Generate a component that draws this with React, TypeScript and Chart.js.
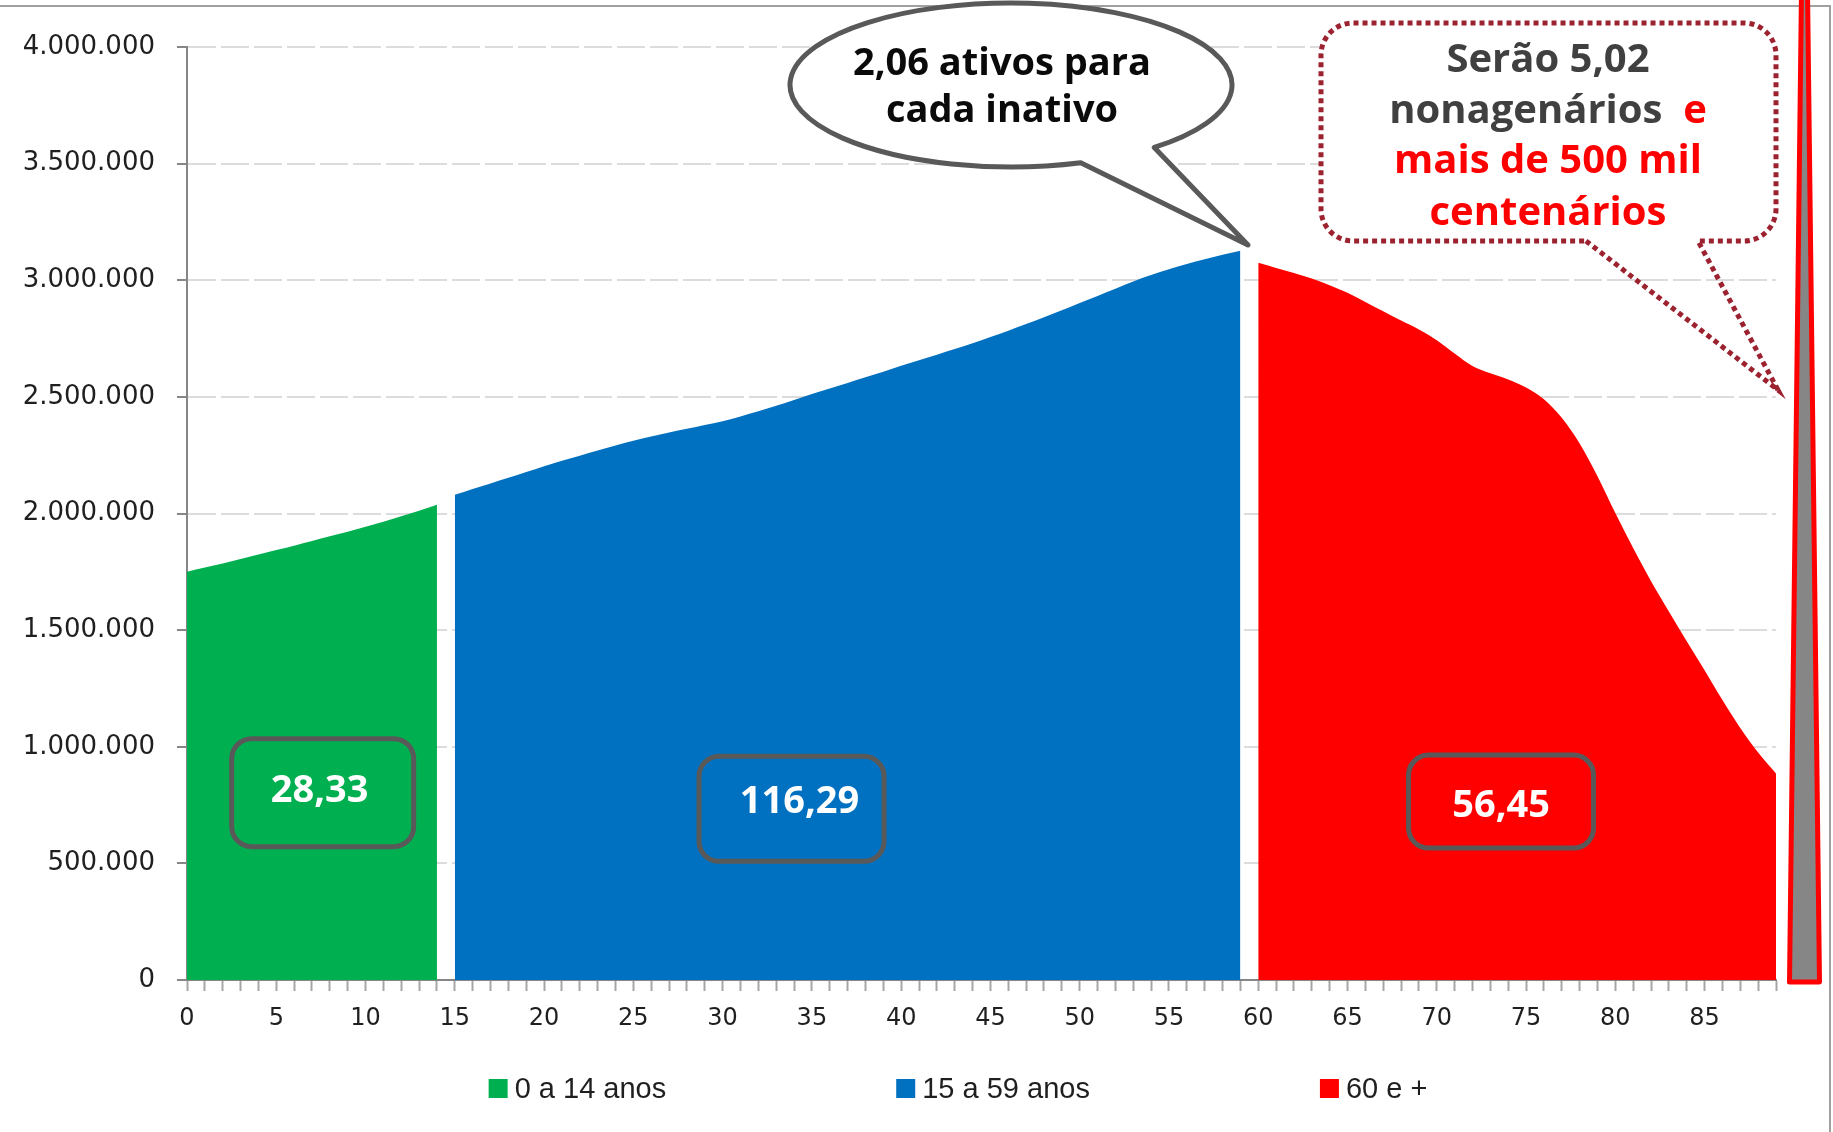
import React, { useEffect, useRef } from 'react';
import { Chart, registerables } from 'chart.js';

Chart.register(...registerables);

// ---- categories (age in years) ----
const ageLabels = [
  '0', '1', '2', '3', '4', '5', '6', '7', '8', '9',
  '10', '11', '12', '13', '14', '15', '16', '17', '18', '19',
  '20', '21', '22', '23', '24', '25', '26', '27', '28', '29',
  '30', '31', '32', '33', '34', '35', '36', '37', '38', '39',
  '40', '41', '42', '43', '44', '45', '46', '47', '48', '49',
  '50', '51', '52', '53', '54', '55', '56', '57', '58', '59',
  '60', '61', '62', '63', '64', '65', '66', '67', '68', '69',
  '70', '71', '72', '73', '74', '75', '76', '77', '78', '79',
  '80', '81', '82', '83', '84', '85', '86', '87', '88', '89',
];

// ---- population by single age (ages 0–14) ----
const youngValues = [
  1750000, 1768000, 1786000, 1805000, 1824000, 1843000, 1862000, 1882000,
  1902000, 1922000, 1943000, 1965000, 1988000, 2012000, 2037000,
];
// ---- ages 15–59 ----
const adultValues = [
  2080000, 2105000, 2129000, 2153000, 2178000, 2203000, 2226000, 2248000,
  2270000, 2292000, 2312000, 2330000, 2347000, 2363000, 2379000, 2396000,
  2416000, 2438000, 2462000, 2487000, 2512000, 2536000, 2560000, 2584000,
  2608000, 2633000, 2657000, 2681000, 2705000, 2730000, 2757000, 2784000,
  2812000, 2841000, 2871000, 2902000, 2933000, 2964000, 2995000, 3022000,
  3047000, 3070000, 3090000, 3109000, 3127000,
];
// ---- ages 60–89 ----
const elderValues = [
  3075000, 3053000, 3031000, 3007000, 2979000, 2946000, 2907000, 2867000,
  2827000, 2789000, 2743000, 2686000, 2632000, 2601000, 2575000, 2540000,
  2490000, 2410000, 2300000, 2160000, 2002000, 1852000, 1710000, 1580000,
  1452000, 1328000, 1200000, 1080000, 975000, 885000,
];

const seriesNames = ['0 a 14 anos', '15 a 59 anos', '60 e +'];
const seriesColors = ['#00B050', '#0070C0', '#FF0000'];
const seriesStart = [0, 15, 60];
const seriesValues = [youngValues, adultValues, elderValues];

const groupTotals = ['28,33', '116,29', '56,45'];
const bubbleLines = ['2,06 ativos para', 'cada inativo'];

const yMin = 0;
const yMax = 4000000;
const yStep = 500000;

const formatThousands = (v: number) =>
  String(Math.round(v)).replace(/\B(?=(\d{3})+(?!\d))/g, '.');

function padSeries(values: number[], start: number): (number | null)[] {
  const out: (number | null)[] = ageLabels.map(() => null);
  values.forEach((v, i) => {
    out[start + i] = v;
  });
  return out;
}

function roundRectPath(ctx: CanvasRenderingContext2D, x: number, y: number, w: number, h: number, r: number) {
  ctx.beginPath();
  ctx.moveTo(x + r, y);
  ctx.lineTo(x + w - r, y);
  ctx.arcTo(x + w, y, x + w, y + r, r);
  ctx.lineTo(x + w, y + h - r);
  ctx.arcTo(x + w, y + h, x + w - r, y + h, r);
  ctx.lineTo(x + r, y + h);
  ctx.arcTo(x, y + h, x, y + h - r, r);
  ctx.lineTo(x, y + r);
  ctx.arcTo(x, y, x + r, y, r);
  ctx.closePath();
}

const overlayPlugin = {
  id: 'overlay',
  afterDraw(chart: any) {
    const ctx: CanvasRenderingContext2D = chart.ctx;
    const xs = chart.scales.x;
    const ys = chart.scales.y;
    ctx.save();

    // frame lines (top and right)
    ctx.strokeStyle = '#a0a0a0';
    ctx.lineWidth = 2;
    ctx.beginPath();
    ctx.moveTo(0, 6);
    ctx.lineTo(1830, 6);
    ctx.lineTo(1830, 1132);
    ctx.stroke();

    // group total boxes
    const boxes = [
      { cat: 7.6, val: 803000, w: 182, h: 108, dx: -3, dy: -4 },
      { cat: 33.86, val: 734000, w: 185, h: 105, dx: 8, dy: -9 },
      { cat: 73.6, val: 765000, w: 185, h: 93, dx: 0, dy: 1.5 },
    ];
    boxes.forEach((b, i) => {
      const cx = xs.getPixelForValue(b.cat);
      const cy = ys.getPixelForValue(b.val);
      roundRectPath(ctx, cx - b.w / 2, cy - b.h / 2, b.w, b.h, 20);
      ctx.lineWidth = 5;
      ctx.strokeStyle = '#595959';
      ctx.stroke();
      ctx.fillStyle = '#ffffff';
      ctx.font = 'bold 38px "Open Sans"';
      ctx.textAlign = 'center';
      ctx.textBaseline = 'alphabetic';
      ctx.fillText(groupTotals[i], cx + b.dx, cy + b.dy + 13.5);
    });

    // ellipse speech bubble
    const ecx = 1011, ecy = 85, erx = 221, ery = 82;
    const tip = { x: 1248, y: 245 };
    const a1 = (71.6 * Math.PI) / 180;
    const a2 = (49.6 * Math.PI) / 180;
    ctx.beginPath();
    ctx.moveTo(ecx + erx * Math.cos(a1), ecy + ery * Math.sin(a1));
    ctx.lineTo(tip.x, tip.y);
    ctx.lineTo(ecx + erx * Math.cos(a2), ecy + ery * Math.sin(a2));
    ctx.ellipse(ecx, ecy, erx, ery, 0, a2, a1, true);
    ctx.closePath();
    ctx.fillStyle = '#ffffff';
    ctx.fill();
    ctx.lineJoin = 'round';
    ctx.lineWidth = 5;
    ctx.strokeStyle = '#595959';
    ctx.stroke();
    ctx.fillStyle = '#0a0a0a';
    ctx.font = 'bold 38px "Open Sans"';
    ctx.textAlign = 'center';
    ctx.fillText(bubbleLines[0], 1002, 75);
    ctx.fillText(bubbleLines[1], 1002, 122);

    // dotted rounded callout
    const L = 1321, R = 1776, T = 23, B = 241, r = 32;
    roundRectPath(ctx, L, T, R - L, B - T, r);
    ctx.fillStyle = '#ffffff';
    ctx.fill();
    ctx.beginPath();
    ctx.moveTo(1586, B);
    ctx.lineTo(1778, 390);
    ctx.lineTo(1698, B);
    ctx.lineTo(R - r, B);
    ctx.arcTo(R, B, R, B - r, r);
    ctx.lineTo(R, T + r);
    ctx.arcTo(R, T, R - r, T, r);
    ctx.lineTo(L + r, T);
    ctx.arcTo(L, T, L, T + r, r);
    ctx.lineTo(L, B - r);
    ctx.arcTo(L, B, L + r, B, r);
    ctx.closePath();
    ctx.setLineDash([5, 4]);
    ctx.lineWidth = 5;
    ctx.lineJoin = 'miter';
    ctx.strokeStyle = '#9c2230';
    ctx.stroke();
    ctx.setLineDash([]);

    ctx.font = 'bold 40px "Open Sans"';
    ctx.textAlign = 'left';
    const cxBox = 1548;
    const drawParts = (parts: [string, string][], baseline: number) => {
      const total = parts.reduce((s, p) => s + ctx.measureText(p[0]).width, 0);
      let x = cxBox - total / 2;
      parts.forEach(([t, c]) => {
        ctx.fillStyle = c;
        ctx.fillText(t, x, baseline);
        x += ctx.measureText(t).width;
      });
    };
    drawParts([['Serão 5,02', '#404040']], 72);
    drawParts([['nonagenários', '#404040'], ['  e', '#ff0000']], 123);
    drawParts([['mais de 500 mil', '#ff0000']], 173);
    drawParts([['centenários', '#ff0000']], 225);

    // thin grey needle shape on the right
    ctx.beginPath();
    ctx.moveTo(1801.5, -10);
    ctx.lineTo(1807.5, -10);
    ctx.lineTo(1819.5, 982);
    ctx.lineTo(1789.5, 982);
    ctx.closePath();
    ctx.fillStyle = '#868686';
    ctx.fill();
    ctx.lineJoin = 'round';
    ctx.lineWidth = 5;
    ctx.strokeStyle = '#ff0000';
    ctx.stroke();

    // legend
    ctx.font = '29px "Liberation Sans"';
    const boxSize = 19;
    const textGap = 7;
    const itemGap = 230;
    const widths = seriesNames.map((n) => boxSize + textGap + ctx.measureText(n).width);
    const total = widths.reduce((a, b) => a + b, 0) + itemGap * (seriesNames.length - 1);
    let lx = 958 - total / 2;
    seriesNames.forEach((n, i) => {
      ctx.fillStyle = seriesColors[i];
      ctx.fillRect(lx, 1079, boxSize, boxSize);
      ctx.fillStyle = '#1f1f1f';
      ctx.textAlign = 'left';
      ctx.textBaseline = 'alphabetic';
      ctx.fillText(n, lx + boxSize + textGap, 1098);
      lx += widths[i] + itemGap;
    });

    ctx.restore();
  },
};

export default function App() {
  const canvasRef = useRef<HTMLCanvasElement | null>(null);

  useEffect(() => {
    if (!canvasRef.current) return;
    const chart = new Chart(canvasRef.current, {
      type: 'line',
      data: {
        labels: ageLabels,
        datasets: seriesNames.map((name, i) => ({
          label: name,
          data: padSeries(seriesValues[i], seriesStart[i]),
          backgroundColor: seriesColors[i],
          borderColor: seriesColors[i],
          borderWidth: 0,
          pointRadius: 0,
          pointHoverRadius: 0,
          fill: 'origin',
          spanGaps: false,
          cubicInterpolationMode: 'monotone',
        })),
      },
      options: {
        animation: false,
        responsive: true,
        maintainAspectRatio: false,
        events: [],
        layout: { padding: { left: 0, right: 57, top: 47, bottom: 92 } },
        plugins: {
          legend: { display: false },
          tooltip: { enabled: false },
        },
        scales: {
          x: {
            type: 'category',
            offset: false,
            grid: {
              display: true,
              drawOnChartArea: false,
              drawTicks: true,
              tickLength: 11,
              tickWidth: 2,
              tickColor: '#a6a6a6',
              color: '#a6a6a6',
            },
            border: { display: true, color: '#868686', width: 2 },
            ticks: {
              autoSkip: false,
              maxRotation: 0,
              minRotation: 0,
              padding: 13,
              color: '#1f1f1f',
              font: { family: '"DejaVu Sans"', size: 24 },
              callback: function (this: any, value: any, index: number) {
                return index % 5 === 0 ? this.getLabelForValue(value) : '';
              },
            },
            afterFit: (scale: any) => {
              scale.height = 60;
            },
          },
          y: {
            min: yMin,
            max: yMax,
            ticks: {
              stepSize: yStep,
              padding: 22,
              color: '#1f1f1f',
              font: { family: '"DejaVu Sans"', size: 26 },
              callback: (v: any) => formatThousands(Number(v)),
            },
            grid: {
              color: '#dcdcdc',
              lineWidth: 2,
              drawTicks: true,
              tickLength: 10,
              tickWidth: 2,
              tickColor: '#868686',
            },
            border: { display: true, color: '#868686', width: 2, dash: [28, 5] },
            afterFit: (scale: any) => {
              scale.width = 187;
            },
          },
        },
      } as any,
      plugins: [overlayPlugin],
    });
    return () => chart.destroy();
  }, []);

  return (
    <div
      style={{
        position: 'fixed',
        left: 0,
        top: 0,
        width: 1833,
        height: 1132,
        overflow: 'hidden',
        background: '#ffffff',
      }}
    >
      <canvas ref={canvasRef} />
    </div>
  );
}
